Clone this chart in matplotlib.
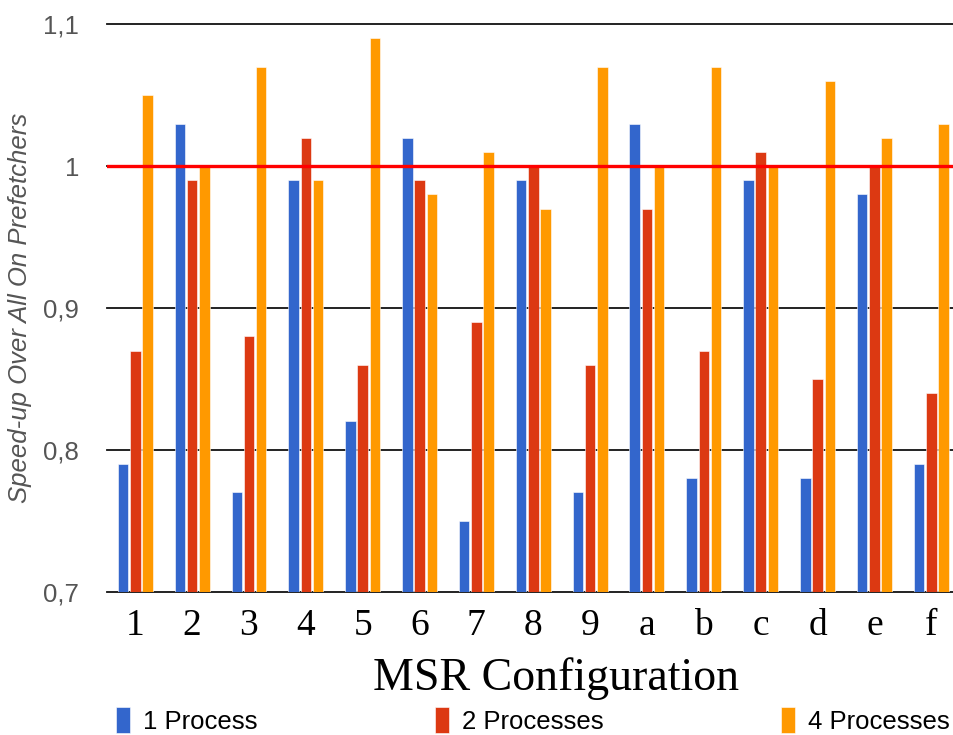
import matplotlib.pyplot as plt
import numpy as np

# Configurações MSR (eixo x)
configs = ["1", "2", "3", "4", "5", "6", "7", "8", "9", "a", "b", "c", "d", "e", "f"]

# Speed-up por número de processos
one_proc = [0.79, 1.03, 0.77, 0.99, 0.82, 1.02, 0.75, 0.99, 0.77, 1.03, 0.78, 0.99, 0.78, 0.98, 0.79]
two_proc = [0.87, 0.99, 0.88, 1.02, 0.86, 0.99, 0.89, 1.00, 0.86, 0.97, 0.87, 1.01, 0.85, 1.00, 0.84]
four_proc = [1.05, 1.00, 1.07, 0.99, 1.09, 0.98, 1.01, 0.97, 1.07, 1.00, 1.07, 1.00, 1.06, 1.02, 1.03]

series_labels = ["1 Process", "2 Processes", "4 Processes"]
colors = ["#3366CC", "#DC3912", "#FF9900"]

y_ticks = [0.7, 0.8, 0.9, 1.0, 1.1]
y_tick_labels = ["0,7", "0,8", "0,9", "1", "1,1"]
baseline = 1.0

fig = plt.figure(figsize=(9.54, 7.35), dpi=100)
ax = fig.add_axes([0.112, 0.195, 0.888, 0.772])

x = np.arange(len(configs))
width = 0.185
offset = 0.215

handles = []
for i, (vals, lab, col) in enumerate(zip([one_proc, two_proc, four_proc], series_labels, colors)):
    b = ax.bar(x + (i - 1) * offset, vals, width, color=col, label=lab,
               edgecolor="white", linewidth=0.4, zorder=2)
    handles.append(b)

# Linhas de grade
for yv in y_ticks:
    ax.axhline(yv, color="#111111", linewidth=1.3, zorder=1, clip_on=False)
ax.axhline(baseline, color="#FF0000", linewidth=2.4, zorder=3)

ax.set_ylim(0.7, 1.1)
ax.set_xlim(-0.5, 14.4)
ax.set_yticks(y_ticks)
ax.set_yticklabels(y_tick_labels, fontsize=18.5, color="#555555", family="Liberation Sans")
ax.set_xticks(x)
ax.set_xticklabels(configs, fontsize=27, family="Liberation Serif")
ax.tick_params(axis="both", length=0)
ax.tick_params(axis="y", pad=20)
ax.tick_params(axis="x", pad=12)
for s in ax.spines.values():
    s.set_visible(False)

ax.set_ylabel("Speed-up Over All On Prefetchers", fontsize=18.5, style="italic",
              color="#555555", family="Liberation Sans", labelpad=8)
ax.set_xlabel("MSR Configuration", fontsize=33, family="Liberation Serif")
ax.xaxis.set_label_coords(0.53, -0.115)

fig.legend(handles=handles, labels=series_labels, loc="lower left",
           bbox_to_anchor=(0.111, -0.012, 0.895, 0.03), mode="expand", ncol=3,
           frameon=False, handlelength=0.55, handleheight=1.2,
           handletextpad=0.5, borderaxespad=0,
           prop={"family": "Liberation Sans", "size": 18.5})

fig.savefig("out.png", dpi=100)
